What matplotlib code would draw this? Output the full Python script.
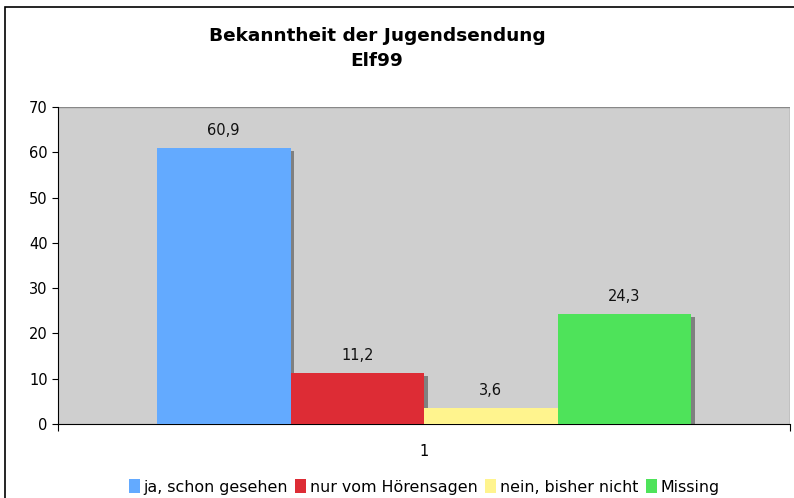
import matplotlib
matplotlib.use("Agg")
import matplotlib.pyplot as plt
from matplotlib.patches import Rectangle, Patch

title = "Bekanntheit der Jugendsendung\nElf99"
categories = ["ja, schon gesehen", "nur vom Hörensagen", "nein, bisher nicht", "Missing"]
values = [60.9, 11.2, 3.6, 24.3]
labels = ["60,9", "11,2", "3,6", "24,3"]
colors = ["#63AAFF", "#DD2C35", "#FFF48E", "#4EE35A"]
x_label = "1"
yticks = [0, 10, 20, 30, 40, 50, 60, 70]

W, H = 794, 498
fig = plt.figure(figsize=(W / 100, H / 100), dpi=100)
plt.rcParams['font.family'] = ['DejaVu Sans']

# outer border (cropped on right/bottom)
fig.patches.append(Rectangle((5 / W, -0.1), 1.2, 1 - 7 / H + 0.1, transform=fig.transFigure,
                             fill=False, edgecolor="black", linewidth=1.2))

ax = fig.add_axes([58 / W, 1 - 424 / H, (790 - 58) / W, (424 - 107) / H])
ax.set_facecolor("#CFCFCF")
ax.set_xlim(0.5, 1.5)
ax.set_ylim(0, 70)

bw = 534 / 732 / 4
start = 1 - 2 * bw
# shadows
for i, v in enumerate(values):
    x0 = start + i * bw
    ax.bar(x0 + 0.005, v - 0.7, width=bw, align="edge", color="#808080", zorder=2)
for i, (v, c) in enumerate(zip(values, colors)):
    x0 = start + i * bw
    ax.bar(x0, v, width=bw, align="edge", color=c, zorder=3, label=categories[i])
    ax.text(x0 + bw / 2, v + 2.2, labels[i], ha="center", va="bottom", fontsize=10.5, color="#111111", zorder=4)

for s in ["top", "right"]:
    ax.spines[s].set_visible(False)
ax.axhline(70, color="#888888", linewidth=1, zorder=1)
ax.axvline(1.5, color="#888888", linewidth=1, zorder=1)
ax.spines["left"].set_color("black")
ax.spines["bottom"].set_color("black")
ax.set_yticks(yticks)
ax.tick_params(axis="y", labelsize=10.5, length=4, direction="out", colors="black")
ax.set_xticks([0.5, 1.5])
ax.set_xticklabels(["", ""])
ax.tick_params(axis="x", length=5, direction="out")
ax.text(1.0, -4.5, x_label, ha="center", va="top", fontsize=10.5)

fig.text(377 / W, 1 - 36 / H, "Bekanntheit der Jugendsendung", ha="center", va="center",
         fontsize=13.3, fontweight="bold")
fig.text(377 / W, 1 - 61 / H, "Elf99", ha="center", va="center", fontsize=13.3, fontweight="bold")

handles = [Patch(facecolor=c, edgecolor="none") for c in colors]
fig.legend(handles, categories, loc="center", bbox_to_anchor=(424 / W, 1 - 487 / H), ncol=4,
           frameon=False, fontsize=11.4, handlelength=0.7, handleheight=0.9, handletextpad=0.2,
           columnspacing=0.5)

fig.savefig("out.png", dpi=100)
